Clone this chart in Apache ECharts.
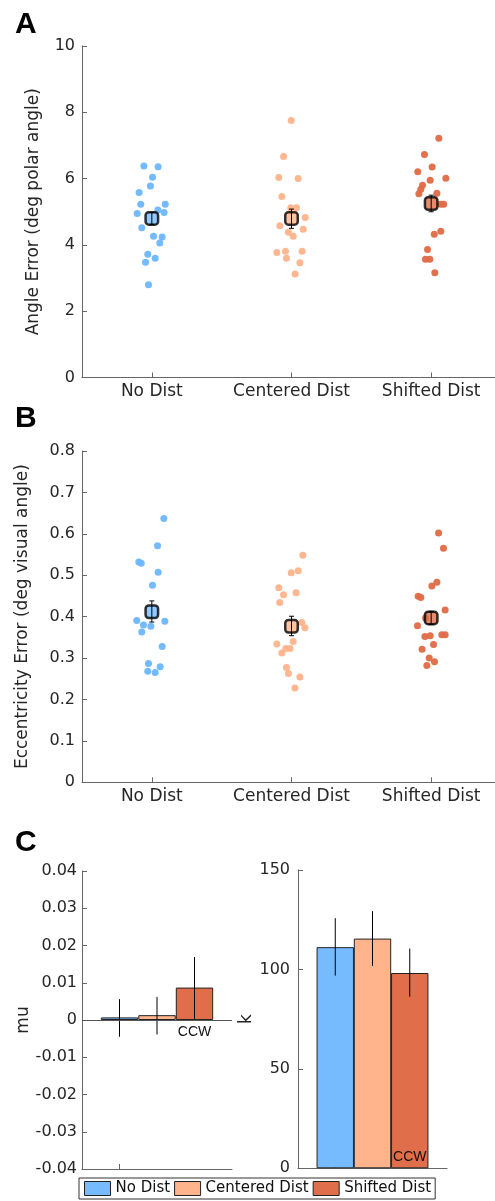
<!DOCTYPE html>
<html lang="en">
<head>
	<meta charset="UTF-8">
	<title></title>
	<style type="text/css">
		html, body { margin: 0; padding: 0; background: #fff; overflow: hidden; }
		#container { width: 504px; height: 1201px; }
	</style>
	<script type="text/javascript" src="https://cdn.jsdelivr.net/npm/echarts/dist/echarts.min.js"></script>
</head>
<body>
	<div id="container"></div>
	<script type="text/javascript">
	// groups / conditions
	var groups = ['No Dist', 'Centered Dist', 'Shifted Dist'];
	var dotColors = ['#6db6ff', '#ffb38b', '#e06a45'];
	var barColors = ['#77bbff', '#ffb48c', '#e06e4a'];

	// A: angle error per subject (deg polar angle), x jitter
	var angleNo = [6.38, 6.36, 6.04, 5.78, 5.58, 5.23, 5.23, 4.95, 4.98, 5.05, 4.52, 4.26, 4.24, 4.06, 3.72, 3.60, 3.48, 2.80];
	var angleNoJit = [-0.057, 0.045, 0.005, -0.010, -0.091, -0.079, 0.096, -0.105, 0.088, 0.043, -0.072, 0.012, 0.074, 0.057, -0.029, 0.024, -0.045, -0.024];
	var angleCen = [7.75, 6.67, 6.03, 6.00, 5.46, 5.12, 5.12, 4.83, 4.58, 4.47, 4.38, 4.26, 3.77, 3.81, 3.81, 3.60, 3.46, 3.12];
	var angleCenJit = [-0.002, -0.057, -0.091, 0.048, -0.069, -0.005, 0.036, 0.098, -0.084, 0.084, -0.022, 0.012, -0.105, -0.043, 0.076, -0.036, 0.060, 0.026];
	var angleShi = [7.22, 6.73, 6.35, 6.21, 6.01, 5.95, 5.80, 5.68, 5.54, 5.56, 5.23, 5.23, 4.32, 4.41, 3.86, 3.57, 3.57, 3.16];
	var angleShiJit = [0.055, -0.048, 0.007, -0.096, 0.105, -0.007, -0.062, -0.074, -0.088, 0.041, 0.070, 0.090, 0.022, 0.069, -0.026, -0.041, -0.010, 0.026];
	var angleMean = [4.80, 4.80, 5.25];
	var angleLo = [4.62, 4.50, 5.00];
	var angleHi = [4.98, 5.08, 5.50];

	// B: eccentricity error per subject (deg visual angle)
	var eccNo = [0.637, 0.571, 0.532, 0.529, 0.507, 0.476, 0.391, 0.380, 0.377, 0.363, 0.389, 0.328, 0.287, 0.279, 0.268, 0.265];
	var eccNoJit = [0.086, 0.041, -0.093, -0.076, 0.045, 0.005, -0.108, -0.060, -0.007, -0.072, 0.093, 0.074, -0.024, 0.060, -0.029, 0.024];
	var eccCen = [0.548, 0.506, 0.511, 0.470, 0.453, 0.458, 0.434, 0.386, 0.373, 0.334, 0.340, 0.323, 0.323, 0.312, 0.277, 0.263, 0.254, 0.228];
	var eccCenJit = [0.081, -0.002, 0.048, -0.091, -0.057, 0.033, -0.084, 0.074, 0.096, -0.105, 0.012, -0.041, -0.010, -0.069, -0.036, -0.022, 0.060, 0.024];
	var eccShi = [0.602, 0.565, 0.483, 0.474, 0.449, 0.446, 0.416, 0.397, 0.378, 0.352, 0.354, 0.356, 0.356, 0.333, 0.321, 0.300, 0.291, 0.282];
	var eccShiJit = [0.053, 0.088, 0.041, 0.005, -0.093, -0.074, 0.100, -0.040, -0.098, -0.045, -0.007, 0.076, 0.100, 0.017, -0.065, -0.014, 0.024, -0.031];
	var eccMean = [0.412, 0.377, 0.397];
	var eccLo = [0.387, 0.354, 0.381];
	var eccHi = [0.438, 0.401, 0.413];

	// C: fitted mu and k with error bars
	var muVals = [0.0007, 0.0013, 0.0087];
	var muLo = [-0.0045, -0.0039, 0.0003];
	var muHi = [0.0056, 0.0062, 0.0169];
	var kVals = [111.2, 115.5, 98.2];
	var kLo = [96.9, 101.8, 86.3];
	var kHi = [125.8, 129.3, 110.5];
	var barSlots = ['0', '1', '2', '3', '4'];

	var axisGrey = '#666';
	var txtGrey = '#262626';
	var FONT = 'DejaVu Sans';

	var dom = document.getElementById('container');
	var myChart = echarts.init(dom);

	function jitter(vals, jit, g) {
		return vals.map(function (v, i) { return [g + 1 + jit[i], v]; });
	}

	function errBar(cap) {
		return function (params, api) {
			var x = api.value(0);
			var lo = api.coord([x, api.value(1)]);
			var hi = api.coord([x, api.value(2)]);
			var st = { stroke: '#000', lineWidth: 1 };
			var kids = [{ type: 'line', shape: { x1: lo[0], y1: lo[1], x2: hi[0], y2: hi[1] }, style: st }];
			if (cap) {
				kids.push({ type: 'line', shape: { x1: lo[0] - cap, y1: lo[1], x2: lo[0] + cap, y2: lo[1] }, style: st });
				kids.push({ type: 'line', shape: { x1: hi[0] - cap, y1: hi[1], x2: hi[0] + cap, y2: hi[1] }, style: st });
			}
			return { type: 'group', children: kids };
		};
	}

	function yAx(grid, min, max, step, name, gap, extra) {
		var a = {
			type: 'value', gridIndex: grid, min: min, max: max, interval: step,
			name: name, nameLocation: 'middle', nameGap: gap,
			nameTextStyle: { fontFamily: FONT, fontSize: 17, color: txtGrey },
			axisLine: { show: true, lineStyle: { color: axisGrey } },
			axisTick: { show: true, inside: true, length: 5, lineStyle: { color: axisGrey } },
			axisLabel: { fontFamily: FONT, fontSize: 16, color: txtGrey, margin: 7 },
			splitLine: { show: false }
		};
		return Object.assign(a, extra || {});
	}

	function catAx(grid) {
		return {
			type: 'category', gridIndex: grid, data: groups, position: 'bottom', boundaryGap: true,
			axisLine: { show: true, lineStyle: { color: axisGrey } },
			axisTick: { show: true, inside: true, length: 5, alignWithLabel: true, lineStyle: { color: axisGrey } },
			axisLabel: { interval: 0, fontFamily: FONT, fontSize: 17, color: txtGrey, margin: 6 },
			splitLine: { show: false }
		};
	}

	function slotAx(grid) {
		return {
			type: 'category', gridIndex: grid, data: barSlots, boundaryGap: false, position: 'bottom',
			axisLine: { show: true, onZero: false, lineStyle: { color: axisGrey } },
			axisTick: { show: true, inside: true, length: 5, interval: function (i) { return i === 1; }, lineStyle: { color: axisGrey } },
			axisLabel: { show: false },
			splitLine: { show: false }
		};
	}

	var series = [];
	var angleSets = [[angleNo, angleNoJit], [angleCen, angleCenJit], [angleShi, angleShiJit]];
	var eccSets = [[eccNo, eccNoJit], [eccCen, eccCenJit], [eccShi, eccShiJit]];

	[[angleSets, angleMean, angleLo, angleHi, 0], [eccSets, eccMean, eccLo, eccHi, 2]].forEach(function (p) {
		var sets = p[0], xi = p[4], yi = p[4] === 0 ? 0 : 1;
		sets.forEach(function (s, g) {
			series.push({
				name: 'pts' + xi + g, type: 'scatter', xAxisIndex: xi, yAxisIndex: yi,
				symbolSize: 7, itemStyle: { color: dotColors[g], opacity: 0.95 },
				data: jitter(s[0], s[1], g), z: 2, silent: true
			});
		});
		series.push({
			name: 'mean' + xi, type: 'scatter', xAxisIndex: xi, yAxisIndex: yi,
			symbol: 'roundRect', symbolSize: 12.5, z: 3, silent: true,
			itemStyle: { color: function (d) { return barColors[d.dataIndex]; }, borderColor: '#000', borderWidth: 2.5 },
			data: p[1].map(function (m, g) { return [g + 1, m]; })
		});
		series.push({
			name: 'err' + xi, type: 'custom', xAxisIndex: xi, yAxisIndex: yi, z: 4, silent: true,
			renderItem: errBar(2.5), encode: { x: 0, y: [1, 2] },
			data: p[1].map(function (m, g) { return [g + 1, p[2][g], p[3][g]]; })
		});
	});

	// panel C bars
	[[muVals, muLo, muHi, 4, 2], [kVals, kLo, kHi, 5, 3]].forEach(function (p, c) {
		groups.forEach(function (name, g) {
			var d = barSlots.map(function (s, i) { return i === g + 1 ? p[0][g] : '-'; });
			var bar = {
				name: name, type: 'bar', xAxisIndex: p[3], yAxisIndex: p[4],
				barWidth: 37.4, barGap: '-100%', data: d, silent: true,
				itemStyle: { color: barColors[g], borderColor: '#222', borderWidth: 1 }
			};
			if (g === 2) {
				bar.label = {
					show: true, formatter: 'CCW', position: c === 0 ? 'bottom' : 'insideBottom', distance: c === 0 ? 5 : 4,
					fontFamily: 'Liberation Sans', fontSize: 14, color: '#111'
				};
			}
			if (c === 0 && g === 0) {
				bar.markLine = {
					silent: true, symbol: 'none', label: { show: false },
					lineStyle: { color: '#555', type: 'solid', width: 1 },
					data: [{ yAxis: 0 }]
				};
			}
			series.push(bar);
		});
		series.push({
			name: 'errC' + c, type: 'custom', xAxisIndex: p[3], yAxisIndex: p[4], z: 4, silent: true,
			renderItem: errBar(0), encode: { x: 0, y: [1, 2] },
			data: groups.map(function (n, g) { return [g + 1, p[1][g], p[2][g]]; })
		});
	});

	var letter = function (t, x, y) {
		return { type: 'text', left: x, top: y, style: { text: t, font: 'bold 30px "Liberation Sans"', fill: '#000' } };
	};

	var option = {
		backgroundColor: '#fff',
		animation: false,
		textStyle: { fontFamily: FONT },
		grid: [
			{ left: 82, top: 46, width: 419, height: 331.5 },
			{ left: 82, top: 451, width: 419, height: 331.3 },
			{ left: 82, top: 871, width: 150, height: 298 },
			{ left: 298, top: 870, width: 149, height: 298.3 }
		],
		xAxis: [
			{ type: 'value', gridIndex: 0, min: 0.5, max: 3.5, show: false, position: 'top' },
			catAx(0),
			{ type: 'value', gridIndex: 1, min: 0.5, max: 3.5, show: false, position: 'top' },
			catAx(1),
			slotAx(2),
			slotAx(3)
		],
		yAxis: [
			yAx(0, 0, 10, 2, 'Angle Error (deg polar angle)', 40),
			yAx(1, 0, 0.8, 0.1, 'Eccentricity Error (deg visual angle)', 51),
			yAx(2, -0.04, 0.04, 0.01, 'mu', 50, { axisLabel: { fontFamily: FONT, fontSize: 16, color: txtGrey, margin: 5 } }),
			yAx(3, 0, 150, 50, 'k', 42, { axisLabel: { fontFamily: FONT, fontSize: 16, color: txtGrey, margin: 8 } })
		],
		legend: {
			data: groups, left: 79, top: 1178, orient: 'horizontal',
			icon: 'rect', itemWidth: 26, itemHeight: 14, itemGap: 4,
			padding: [3, 4, 3, 5], borderColor: '#333', borderWidth: 1,
			selectedMode: false,
			itemStyle: { borderColor: '#222', borderWidth: 1 },
			textStyle: { fontFamily: FONT, fontSize: 15, color: '#111' }
		},
		graphic: [letter('A', 15, 10), letter('B', 15, 404), letter('C', 15, 828)],
		series: series
	};

	if (option && typeof option === 'object') {
		myChart.setOption(option, true);
	}
	</script>
</body>
</html>
